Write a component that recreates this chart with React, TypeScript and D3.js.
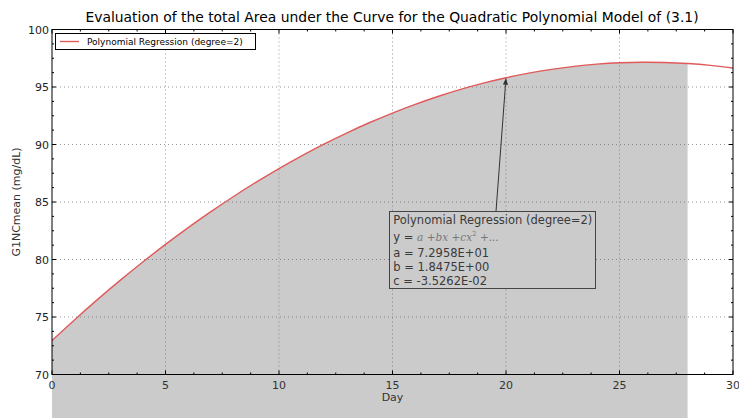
import React from "react";
import * as d3 from "d3";

const title = "Evaluation of the total Area under the Curve for the Quadratic Polynomial Model of (3.1)";
const xLabel = "Day";
const yLabel = "G1NCmean (mg/dL)";
const legendLabel = "Polynomial Regression (degree=2)";
const days = [0,1,2,3,4,5,6,7,8,9,10,11,12,13,14,15,16,17,18,19,20,21,22,23,24,25,26,27,28,29,30];
const fitted = [72.958,74.770,76.512,78.183,79.784,81.314,82.774,84.163,85.481,86.729,87.907,89.014,90.050,91.016,91.912,92.737,93.491,94.175,94.788,95.331,95.803,96.205,96.536,96.797,96.987,97.107,97.156,97.135,97.043,96.880,96.647];
const fillEndDay = 28;
const xTicks = [0,5,10,15,20,25,30];
const yTicks = [70,75,80,85,90,95,100];
const annotLines = ["a = 7.2958E+01", "b = 1.8475E+00", "c = -3.5262E-02"];
const annotDay = 20;
const annotValue = 95.803;

export default function App() {
  const W = 739, H = 418;
  const L = 52, R = 733, T = 29.5, B = 374.5;
  const x = d3.scaleLinear().domain([0, 30]).range([L, R]);
  const y = d3.scaleLinear().domain([70, 100]).range([B, T]);
  const pts = days.map((d, i) => [d, fitted[i]] as [number, number]);
  const line = d3.line<[number, number]>().x(d => x(d[0])).y(d => y(d[1])).curve(d3.curveNatural);
  const area = d3.area<[number, number]>().x(d => x(d[0])).y0(H + 10).y1(d => y(d[1])).curve(d3.curveNatural);
  const fillPts = pts.filter(p => p[0] <= fillEndDay);
  const minorX = d3.range(0, 30.001, 1.25).filter(v => !xTicks.includes(v));
  const minorY = d3.range(70, 100.001, 1.25).filter(v => !yTicks.includes(v));
  const font = "DejaVu Sans, sans-serif";
  const tipX = x(annotDay), tipY = y(annotValue);
  const boxX = 389.5, boxY = 211.5, boxW = 206, boxH = 77;
  const tailX = 496, tailY = boxY;
  const ang = Math.atan2(tipY - tailY, tipX - tailX);
  const ah = 7, aw = 2.5;
  const bx = tipX - ah * Math.cos(ang), by = tipY - ah * Math.sin(ang);
  const px = -Math.sin(ang) * aw, py = Math.cos(ang) * aw;
  const serif = "DejaVu Serif, serif";
  return (
    <svg width={W} height={H} style={{ position: "absolute", left: 0, top: 0, background: "#fff" }} fontFamily={font}>
      <path d={area(fillPts) || ""} fill="#cbcbcb" />
      {xTicks.slice(1, -1).map(t => (
        <line key={"gx" + t} x1={x(t)} x2={x(t)} y1={T} y2={B} stroke="#666" strokeWidth={0.7} strokeDasharray="1,3" />
      ))}
      {yTicks.slice(1, -1).map(t => (
        <line key={"gy" + t} x1={L} x2={R} y1={y(t)} y2={y(t)} stroke="#666" strokeWidth={0.7} strokeDasharray="1,3" />
      ))}
      <path d={line(pts) || ""} fill="none" stroke="#e05a5a" strokeWidth={1.4} />
      {xTicks.map(t => (
        <g key={"tx" + t}>
          <line x1={x(t)} x2={x(t)} y1={B} y2={B - 4} stroke="#000" />
          <line x1={x(t)} x2={x(t)} y1={T} y2={T + 4} stroke="#000" />
        </g>
      ))}
      {minorX.map(t => (
        <g key={"mx" + t}>
          <line x1={x(t)} x2={x(t)} y1={B} y2={B - 2} stroke="#000" />
          <line x1={x(t)} x2={x(t)} y1={T} y2={T + 2} stroke="#000" />
        </g>
      ))}
      {yTicks.map(t => (
        <g key={"ty" + t}>
          <line x1={L} x2={L + 4} y1={y(t)} y2={y(t)} stroke="#000" />
          <line x1={R} x2={R - 4} y1={y(t)} y2={y(t)} stroke="#000" />
        </g>
      ))}
      {minorY.map(t => (
        <g key={"my" + t}>
          <line x1={L} x2={L + 2} y1={y(t)} y2={y(t)} stroke="#000" />
          <line x1={R} x2={R - 2} y1={y(t)} y2={y(t)} stroke="#000" />
        </g>
      ))}
      <rect x={L} y={T} width={R - L} height={B - T} fill="none" stroke="#000" strokeWidth={1} />
      {xTicks.map(t => (
        <text key={"lx" + t} x={x(t)} y={B + 14} textAnchor="middle" fontSize={11} fill="#333">{t}</text>
      ))}
      {yTicks.map(t => (
        <text key={"ly" + t} x={L - 3} y={y(t) + 4} textAnchor="end" fontSize={11} fill="#222">{t}</text>
      ))}
      <text x={(L + R) / 2} y={B + 26} textAnchor="middle" fontSize={11} fill="#333">{xLabel}</text>
      <text transform={`translate(20,${(T + B) / 2}) rotate(-90)`} textAnchor="middle" fontSize={11} fill="#333">{yLabel}</text>
      <text x={392} y={22} textAnchor="middle" fontSize={13.9} fill="#000">{title}</text>
      <rect x={55.5} y={33.5} width={200} height={16} fill="#fff" stroke="#000" strokeWidth={1} />
      <line x1={60} x2={79} y1={41.5} y2={41.5} stroke="#e05a5a" strokeWidth={1.4} />
      <text x={87} y={45} fontSize={9} fill="#000">{legendLabel}</text>
      <line x1={tailX} y1={tailY} x2={bx} y2={by} stroke="#333" strokeWidth={1} />
      <path d={`M${tipX},${tipY}L${bx + px},${by + py}L${bx - px},${by - py}Z`} fill="#333" />
      <rect x={boxX} y={boxY} width={boxW} height={boxH} fill="#cbcbcb" stroke="#444" strokeWidth={1} />
      <text x={boxX + 3.8} y={224} fontSize={11.5} fill="#3a3a3a">{legendLabel}</text>
      <text x={boxX + 3.8} y={241} fontSize={11.5} fill="#3a3a3a">
        y = <tspan fontFamily={serif} fontStyle="italic" fill="#777" fontSize={10.5}>a</tspan>
        <tspan fontFamily={serif} fill="#777" fontSize={10.5}> +</tspan>
        <tspan fontFamily={serif} fontStyle="italic" fill="#777" fontSize={10.5}>bx</tspan>
        <tspan fontFamily={serif} fill="#777" fontSize={10.5}> +</tspan>
        <tspan fontFamily={serif} fontStyle="italic" fill="#777" fontSize={10.5}>cx</tspan>
        <tspan fontFamily={serif} fill="#777" fontSize={7} dy={-5}>2</tspan>
        <tspan fontFamily={serif} fill="#777" fontSize={10.5} dy={5}> +...</tspan>
      </text>
      {annotLines.map((s, i) => (
        <text key={s} x={boxX + 3.8} y={257 + i * 14.2} fontSize={11.5} fill="#3a3a3a">{s}</text>
      ))}
    </svg>
  );
}
